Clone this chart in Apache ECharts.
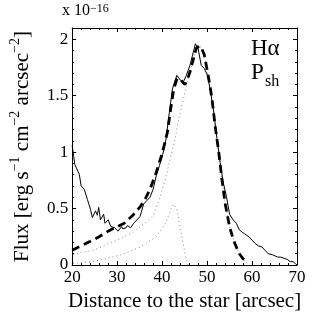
<!DOCTYPE html>
<html>
<head>
<meta charset="utf-8">
<script src="https://cdn.jsdelivr.net/npm/echarts@6/dist/echarts.min.js"></script>
<style>
  html, body { margin: 0; padding: 0; background: #fff; }
  #chart_main { width: 327px; height: 327px; }
</style>
</head>
<body>
<div id="chart_main"></div>
<script>
// observed H-alpha profile [distance, flux]
var observed = [
    [20, 1.06], [20.6, 0.89], [21.3, 0.83], [21.6, 0.80], [22.0, 0.70], [22.7, 0.67], [23.4, 0.58],
    [24.1, 0.49], [24.5, 0.42], [25.2, 0.48], [25.6, 0.44], [25.9, 0.51], [26.3, 0.40], [27.0, 0.45],
    [27.3, 0.37], [28.0, 0.40], [28.6, 0.34], [29.5, 0.33], [30.2, 0.30], [31.0, 0.34], [31.3, 0.32],
    [32.0, 0.33], [32.3, 0.35], [33.0, 0.33], [33.7, 0.37], [34.4, 0.40], [35.1, 0.43], [35.9, 0.54],
    [36.6, 0.57], [37.3, 0.60], [38.0, 0.67], [38.7, 0.79], [39.4, 0.88], [40.1, 0.97], [40.9, 1.12],
    [41.6, 1.35], [42.3, 1.56], [43.0, 1.65], [43.3, 1.68], [44.0, 1.64], [44.7, 1.62], [45.4, 1.68],
    [46.2, 1.77], [46.9, 1.88], [47.4, 1.96], [48.0, 1.92], [48.7, 1.77], [49.4, 1.74], [50.1, 1.68],
    [50.8, 1.53], [51.5, 1.35], [52.2, 1.12], [52.9, 0.91], [53.6, 0.73], [54.3, 0.61], [55.0, 0.45],
    [55.8, 0.40], [56.5, 0.37], [57.2, 0.31], [58.2, 0.28], [59.3, 0.25], [60.0, 0.22], [60.7, 0.19],
    [61.4, 0.17], [62.2, 0.16], [62.9, 0.13], [63.6, 0.10], [64.6, 0.09], [65.7, 0.07], [66.4, 0.07],
    [67.1, 0.06], [67.8, 0.05], [68.5, 0.03], [69.1, 0.03], [69.7, 0.01], [70, 0.0]
];
// total model (dashed)
var model = [
    [20, 0.13], [22, 0.17], [24.5, 0.22], [26, 0.25], [28, 0.30], [30, 0.34], [31.6, 0.37],
    [33.5, 0.44], [35.2, 0.52], [36.3, 0.59], [37.3, 0.67], [38.7, 0.82], [40.1, 1.00], [41.2, 1.18],
    [41.9, 1.38], [42.6, 1.56], [43.3, 1.65], [44.0, 1.65], [44.6, 1.62], [45.1, 1.60], [45.6, 1.64],
    [46.2, 1.71], [47.0, 1.83], [47.6, 1.92], [48.2, 1.94], [48.7, 1.93], [49.4, 1.86], [50.1, 1.71],
    [50.6, 1.60], [51.1, 1.47], [51.8, 1.23], [52.6, 1.00], [53.3, 0.76], [54.0, 0.55], [55.0, 0.34],
    [55.8, 0.23], [56.5, 0.16], [57.2, 0.10], [57.9, 0.06], [59.0, 0.015]
];
// broad component (dotted)
var broad = [
    [20.2, 0.09], [22, 0.11], [24.5, 0.13], [26, 0.15], [28, 0.19], [30, 0.22], [31.6, 0.25],
    [33.5, 0.29], [35.2, 0.34], [36.8, 0.39], [38.0, 0.44], [39.4, 0.58], [40.9, 0.79], [42.0, 0.97],
    [42.7, 1.08], [43.7, 1.29], [44.5, 1.43], [45.1, 1.53], [45.6, 1.62], [46.2, 1.71], [47.0, 1.83],
    [47.6, 1.92], [48.2, 1.94], [48.7, 1.93], [49.4, 1.86], [50.1, 1.71], [50.6, 1.60], [51.1, 1.47],
    [51.8, 1.23], [52.6, 1.00], [53.3, 0.76], [54.0, 0.55], [55.0, 0.34], [55.8, 0.23], [56.5, 0.16],
    [57.2, 0.10], [57.9, 0.06], [59.0, 0.015]
];
// narrow component (dotted)
var narrow = [
    [20.2, 0.015], [22, 0.02], [24.5, 0.03], [28, 0.06], [31.6, 0.10], [35.2, 0.16], [38.7, 0.25],
    [40.8, 0.37], [41.9, 0.49], [42.6, 0.54], [43.3, 0.49], [44.0, 0.34], [44.7, 0.19], [45.4, 0.04],
    [45.7, 0]
];
var yTicks = ['0', '0.5', '1', '1.5', '2'];

$font = 'Liberation Serif';

var myChart = echarts.init(document.getElementById('chart_main'));

function axisBox(pos, show) {
    return {
        type: 'value',
        position: pos,
        axisLine: { show: true, onZero: false, lineStyle: { color: '#000', width: 1 } },
        axisTick: { show: true, inside: true, length: 4, lineStyle: { color: '#000' } },
        minorTick: { show: true, splitNumber: 5, length: 2, lineStyle: { color: '#000' } },
        splitLine: { show: false },
        axisLabel: { show: show, color: '#000', fontFamily: $font, fontSize: 17 }
    };
}

var xBottom = axisBox('bottom', true);
xBottom.min = 20; xBottom.max = 70; xBottom.interval = 10;
xBottom.axisLabel.margin = 4;
xBottom.name = 'Distance to the star [arcsec]';
xBottom.nameLocation = 'middle';
xBottom.nameGap = 25;
xBottom.nameTextStyle = { color: '#000', fontFamily: $font, fontSize: 21 };
var xTop = axisBox('top', false);
xTop.min = 20; xTop.max = 70; xTop.interval = 10;

var yLeft = axisBox('left', true);
yLeft.min = 0; yLeft.max = 2.1; yLeft.interval = 0.5;
yLeft.axisLabel.margin = 4;
yLeft.axisLabel.formatter = function (v) {
    var i = Math.round(v * 2);
    return Math.abs(v * 2 - i) < 1e-6 && yTicks[i] !== undefined ? yTicks[i] : '';
};
yLeft.name = 'Flux [erg s{sup|\u22121} cm{sup|\u22122} arcsec{sup|\u22122}]';
yLeft.nameLocation = 'middle';
yLeft.nameRotate = 90;
yLeft.nameGap = 33;
yLeft.nameTextStyle = {
    color: '#000', fontFamily: $font, fontSize: 21, lineHeight: 28, verticalAlign: 'bottom',
    rich: { sup: { fontFamily: $font, fontSize: 14, lineHeight: 14, verticalAlign: 'top', color: '#000' } }
};
var yRight = axisBox('right', false);
yRight.min = 0; yRight.max = 2.1; yRight.interval = 0.5;

option = {
    animation: false,
    backgroundColor: '#fff',
    grid: { left: 62, right: 30, top: 28, bottom: 62 },
    xAxis: [xBottom, xTop],
    yAxis: [yLeft, yRight],
    graphic: [
        {
            type: 'text', left: 62, top: 3,
            style: {
                text: 'x 10{sup|\u221216}', fill: '#000', font: '16px ' + $font,
                rich: { sup: { fontSize: 12, verticalAlign: 'top', lineHeight: 12, fontFamily: $font } }
            }
        },
        {
            type: 'text', left: 251, top: 37,
            style: { text: 'H\u03b1', fill: '#000', font: '23px ' + $font }
        },
        {
            type: 'text', left: 251, top: 61,
            style: { text: 'P', fill: '#000', font: '23px ' + $font }
        },
        {
            type: 'text', left: 265, top: 74,
            style: { text: 'sh', fill: '#000', font: '16px ' + $font }
        }
    ],
    series: [
        {
            type: 'line', data: narrow, showSymbol: false,
            lineStyle: { color: '#888', width: 1, type: [1, 3] }
        },
        {
            type: 'line', data: broad, showSymbol: false,
            lineStyle: { color: '#888', width: 1, type: [1, 3] }
        },
        {
            type: 'line', data: observed, showSymbol: false,
            lineStyle: { color: '#000', width: 1 }
        },
        {
            type: 'line', data: model, showSymbol: false,
            lineStyle: { color: '#000', width: 2.8, type: [8, 5] }
        }
    ]
};

myChart.setOption(option);
</script>
</body>
</html>
